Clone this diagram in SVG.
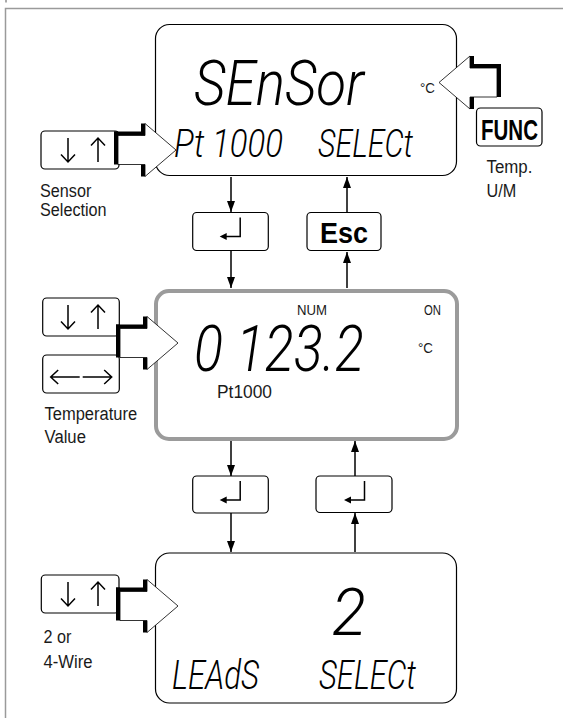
<svg xmlns="http://www.w3.org/2000/svg" width="563" height="718" viewBox="0 0 563 718">
<style>
.frame{fill:none;stroke:#9a9a9a;stroke-width:1.5}
.lcd{fill:#fff;stroke:#000;stroke-width:1.2}
.lcd2{fill:#fff;stroke:#9b9b9b;stroke-width:4}
.key{fill:#fff;stroke:#000;stroke-width:1.2}
.seg{font-family:Roboto,"Liberation Sans",sans-serif;font-style:italic;font-weight:300;fill:#000}
.lbl{font-family:"Liberation Sans",Arial,sans-serif;font-size:18px;fill:#1a1a1a}
.sm{font-family:"Liberation Sans",Arial,sans-serif;font-size:15px;fill:#1a1a1a}
.kt{font-family:"Liberation Sans",Arial,sans-serif;font-weight:bold;font-size:30px;fill:#000}
.ico{stroke:#000;stroke-width:1.5;fill:none}
.conn{stroke:#000;stroke-width:1.5;fill:none}
.sh{fill:#000}
.bw{fill:#fff;stroke:#000;stroke-width:0.8}
</style>
<defs>
<marker id="ah" markerUnits="userSpaceOnUse" markerWidth="11" markerHeight="8" refX="11" refY="4" orient="auto"><path d="M0,0 L11,4 L0,8 z" fill="#000"/></marker>
<g id="bigArrow">
<rect class="sh" x="-4" y="-18.5" width="31" height="4"/>
<rect class="sh" x="-4" y="-18.5" width="4" height="33"/>
<rect class="sh" x="23" y="-26.5" width="4" height="12"/>
<rect class="sh" x="23" y="14.5" width="4" height="12"/>
<path class="bw" d="M0,-14.5 L27,-14.5 L27,-26.5 L58,0 L27,26.5 L27,14.5 L0,14.5 Z"/>
</g>
<g id="enterIcon">
<path d="M47.5,5 V24 H31" class="ico"/>
<path d="M27,24 L34,20.5 L34,27.5 Z" fill="#000"/>
</g>
<g id="udIcon">
<path class="ico" d="M27,7 V31 M20,23.5 L27,31 L34,23.5 M57,31 V7 M50,14.5 L57,7 L64,14.5"/>
</g>
<g id="lrIcon">
<path class="ico" d="M8,22 H37 M15.5,15 L8,22 L15.5,29 M40,22 H69 M61.5,15 L69,22 L61.5,29"/>
</g>
</defs>

<rect width="563" height="718" fill="#fff"/>
<path class="frame" d="M5.5,718 V8.5 H563"/>
<line x1="6" y1="0" x2="6" y2="2.5" stroke="#555" stroke-width="1"/>

<g id="connectors">
<line class="conn" x1="231" y1="177" x2="231" y2="212" marker-end="url(#ah)"/>
<line class="conn" x1="347" y1="212" x2="347" y2="177" marker-end="url(#ah)"/>
<line class="conn" x1="231" y1="251" x2="231" y2="288" marker-end="url(#ah)"/>
<line class="conn" x1="347" y1="288" x2="347" y2="252" marker-end="url(#ah)"/>
<line class="conn" x1="231" y1="441" x2="231" y2="476" marker-end="url(#ah)"/>
<line class="conn" x1="355" y1="476" x2="355" y2="441" marker-end="url(#ah)"/>
<line class="conn" x1="231" y1="513" x2="231" y2="552" marker-end="url(#ah)"/>
<line class="conn" x1="355" y1="552" x2="355" y2="513" marker-end="url(#ah)"/>
</g>

<g id="lcd-sensor">
<rect class="lcd" x="155.5" y="24.5" width="301" height="151" rx="14"/>
<text class="seg" x="194" y="105" font-size="63" textLength="170" lengthAdjust="spacingAndGlyphs">SEnSor</text>
<text class="seg" x="174" y="157" font-size="38" textLength="109" lengthAdjust="spacingAndGlyphs">Pt 1000</text>
<text class="seg" x="318" y="157" font-size="38" textLength="95" lengthAdjust="spacingAndGlyphs">SELECt</text>
<text class="sm" x="420" y="93" textLength="15" lengthAdjust="spacingAndGlyphs">°C</text>
</g>

<g id="lcd-value">
<rect class="lcd2" x="156" y="291" width="301" height="148" rx="13"/>
<text class="sm" x="297" y="315" textLength="30" lengthAdjust="spacingAndGlyphs">NUM</text>
<text class="sm" x="424" y="315" textLength="17" lengthAdjust="spacingAndGlyphs">ON</text>
<text class="seg" x="194" y="371" font-size="64" textLength="170" lengthAdjust="spacingAndGlyphs">0 123.2</text>
<text class="sm" x="418" y="353" textLength="15" lengthAdjust="spacingAndGlyphs">°C</text>
<text class="lbl" x="217" y="398" textLength="55" lengthAdjust="spacingAndGlyphs">Pt1000</text>
</g>

<g id="lcd-leads">
<rect class="lcd" x="155.5" y="553" width="301" height="150" rx="14"/>
<text class="seg" x="332" y="635" font-size="67" textLength="34" lengthAdjust="spacingAndGlyphs">2</text>
<text class="seg" x="172" y="689" font-size="41" textLength="87" lengthAdjust="spacingAndGlyphs">LEAdS</text>
<text class="seg" x="319" y="689" font-size="41" textLength="97" lengthAdjust="spacingAndGlyphs">SELECt</text>
</g>

<g id="key-updown-1">
<rect class="key" x="41" y="131" width="78" height="38" rx="4"/>
<use href="#udIcon" x="41" y="131"/>
</g>
<g id="arrow-sensor"><use href="#bigArrow" x="118" y="150"/></g>
<g id="label-sensor">
<text class="lbl" x="40" y="197" textLength="51.3" lengthAdjust="spacingAndGlyphs">Sensor</text>
<text class="lbl" x="40" y="216" textLength="66.6" lengthAdjust="spacingAndGlyphs">Selection</text>
</g>

<g id="arrow-func"><use href="#bigArrow" transform="translate(497,82.5) scale(-1,1)"/></g>
<g id="key-func">
<rect class="key" x="476.5" y="108" width="65.5" height="38" rx="4"/>
<text class="kt" x="509.5" y="139.5" text-anchor="middle" textLength="57" lengthAdjust="spacingAndGlyphs">FUNC</text>
</g>
<g id="label-func">
<text class="lbl" x="486.5" y="173" textLength="45.9" lengthAdjust="spacingAndGlyphs">Temp.</text>
<text class="lbl" x="486.5" y="197" textLength="29.7" lengthAdjust="spacingAndGlyphs">U/M</text>
</g>

<g id="key-enter-1">
<rect class="key" x="192.7" y="212.5" width="75.6" height="38" rx="4"/>
<use href="#enterIcon" x="192.7" y="212.5"/>
</g>
<g id="key-esc">
<rect class="key" x="307" y="212.5" width="74" height="38" rx="4"/>
<text class="kt" x="344" y="242.5" text-anchor="middle" textLength="48" lengthAdjust="spacingAndGlyphs">Esc</text>
</g>

<g id="key-updown-2">
<rect class="key" x="42.7" y="298" width="76.6" height="38" rx="4"/>
<use href="#udIcon" x="41" y="298"/>
</g>
<g id="key-leftright">
<rect class="key" x="42.7" y="355" width="76.6" height="38" rx="4"/>
<use href="#lrIcon" x="42.7" y="355"/>
</g>
<g id="arrow-value"><use href="#bigArrow" x="120" y="343"/></g>
<g id="label-value">
<text class="lbl" x="44.5" y="420" textLength="92.7" lengthAdjust="spacingAndGlyphs">Temperature</text>
<text class="lbl" x="44.5" y="443" textLength="41.4" lengthAdjust="spacingAndGlyphs">Value</text>
</g>

<g id="key-enter-2">
<rect class="key" x="192.7" y="476" width="75.6" height="37" rx="4"/>
<use href="#enterIcon" x="192.7" y="476"/>
</g>
<g id="key-enter-3">
<rect class="key" x="316" y="476" width="76" height="36.5" rx="4"/>
<use href="#enterIcon" x="317" y="476"/>
</g>

<g id="key-updown-3">
<rect class="key" x="41.3" y="575" width="77.7" height="38" rx="4"/>
<use href="#udIcon" x="41" y="575"/>
</g>
<g id="arrow-leads"><use href="#bigArrow" x="120" y="606"/></g>
<g id="label-leads">
<text class="lbl" x="43.5" y="643" textLength="27.9" lengthAdjust="spacingAndGlyphs">2 or</text>
<text class="lbl" x="43.5" y="668" textLength="49" lengthAdjust="spacingAndGlyphs">4-Wire</text>
</g>
</svg>
